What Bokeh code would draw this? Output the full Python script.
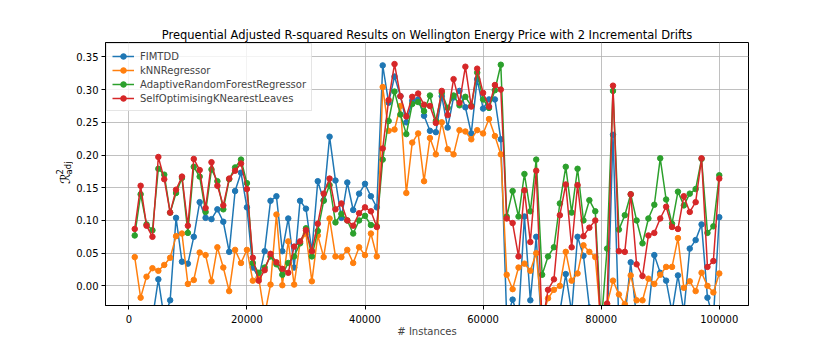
from bokeh.plotting import figure
from bokeh.layouts import row
from bokeh.models import Range1d, FixedTicker, PrintfTickFormatter, Label
from bokeh.embed import file_html
from bokeh.resources import INLINE

instances = list(range(1000, 100001, 1000))

fimtdd = [-0.08, -0.09, -0.07, -0.05, 0.010, -0.05, -0.022, 0.104, 0.037, 0.034,
          0.075, 0.128, 0.104, 0.102, 0.117, 0.098, 0.052, 0.145, 0.173, 0.120,
          0.028, 0.013, 0.053, 0.130, 0.137, 0.053, 0.103, 0.028, 0.130, 0.118,
          0.053, 0.160, 0.131, 0.228, 0.161, 0.104, 0.158, 0.116, 0.141, 0.156,
          0.137, 0.120, 0.337, 0.280, 0.320, 0.290, 0.250, 0.283, 0.285, 0.260,
          0.237, 0.235, 0.290, 0.242, 0.288, 0.298, 0.273, 0.233, 0.316, 0.271,
          0.285, 0.285, 0.224, -0.05, -0.021, -0.05, 0.106, -0.022, 0.075, -0.08,
          -0.06, -0.05, -0.04, 0.018, -0.04, 0.075, 0.046, -0.033, -0.06, -0.08,
          -0.07, 0.231, -0.06, -0.05, 0.036, -0.05, -0.06, -0.04, 0.047, 0.020,
          0.008, -0.04, 0.016, -0.04, 0.057, 0.070, 0.094, -0.018, -0.05, 0.105]

knn = [0.044, -0.018, 0.014, 0.027, 0.023, 0.032, 0.043, 0.076, 0.080, 0.003,
       0.009, 0.051, 0.047, 0.007, 0.059, 0.028, -0.008, 0.055, 0.035, 0.055,
       0.008, 0.012, -0.045, 0.002, 0.109, 0.001, 0.068, 0.002, 0.066, 0.080,
       0.007, 0.077, 0.044, 0.103, 0.045, 0.044, 0.055, 0.035, 0.059, 0.047,
       0.080, 0.045, 0.304, 0.237, 0.239, 0.275, 0.142, 0.219, 0.233, 0.160,
       0.226, 0.201, 0.250, 0.209, 0.201, 0.238, 0.236, 0.224, 0.238, 0.233,
       0.255, 0.229, 0.201, 0.017, -0.005, 0.028, 0.034, 0.023, 0.050, -0.05,
       -0.019, -0.006, 0.000, 0.052, 0.008, 0.019, 0.062, 0.052, 0.044, -0.06,
       -0.028, 0.008, -0.013, -0.028, 0.016, -0.022, -0.022, 0.011, 0.003, 0.017,
       0.029, 0.029, 0.073, -0.003, 0.007, -0.008, 0.020, 0.000, -0.010, 0.019]

arf = [0.077, 0.140, 0.094, 0.085, 0.179, 0.170, 0.112, 0.142, 0.165, 0.081,
       0.182, 0.167, 0.113, 0.178, 0.160, 0.117, 0.163, 0.181, 0.193, 0.157,
       0.035, 0.020, 0.028, 0.045, 0.033, 0.017, 0.035, 0.045, 0.065, 0.088,
       0.045, 0.084, 0.130, 0.154, 0.097, 0.110, 0.100, 0.080, 0.100, 0.107,
       0.093, 0.091, 0.193, 0.252, 0.297, 0.262, 0.232, 0.278, 0.281, 0.267,
       0.291, 0.252, 0.295, 0.272, 0.291, 0.276, 0.289, 0.275, 0.326, 0.285,
       0.272, 0.299, 0.338, 0.106, 0.145, 0.106, 0.171, 0.114, 0.193, 0.017,
       0.045, 0.059, 0.126, 0.182, 0.112, 0.179, 0.100, 0.131, 0.114, -0.06,
       0.057, 0.298, 0.086, 0.108, 0.140, 0.100, 0.065, 0.103, 0.124, 0.195,
       0.132, 0.095, 0.144, 0.123, 0.141, 0.148, 0.194, 0.081, 0.091, 0.169]

soknl = [0.087, 0.153, 0.092, 0.075, 0.197, 0.163, 0.112, 0.147, 0.167, 0.092,
         0.194, 0.177, 0.119, 0.189, 0.153, 0.123, 0.164, 0.176, 0.187, 0.148,
         0.043, 0.008, 0.024, 0.049, 0.036, 0.026, 0.020, 0.060, 0.068, 0.085,
         0.053, 0.095, 0.141, 0.164, 0.117, 0.126, 0.100, 0.092, 0.111, 0.120,
         0.114, 0.090, 0.210, 0.284, 0.339, 0.290, 0.259, 0.289, 0.294, 0.277,
         0.275, 0.249, 0.298, 0.261, 0.316, 0.280, 0.335, 0.274, 0.332, 0.295,
         0.274, 0.307, 0.300, 0.103, 0.096, 0.045, 0.146, 0.067, 0.176, -0.06,
         -0.006, 0.010, 0.108, 0.155, 0.059, 0.154, 0.076, 0.089, 0.100, -0.08,
         -0.027, 0.306, 0.053, 0.052, 0.140, 0.033, 0.015, 0.077, 0.081, 0.103,
         0.121, 0.090, 0.087, 0.137, 0.113, 0.128, 0.195, 0.029, 0.038, 0.164]

series_names = ["FIMTDD", "kNNRegressor", "AdaptiveRandomForestRegressor",
                "SelfOptimisingKNearestLeaves"]
series_values = [fimtdd, knn, arf, soknl]
colors = ["#1f77b4", "#ff7f0e", "#2ca02c", "#d62728"]

x_ticks = [0, 20000, 40000, 60000, 80000, 100000]
y_ticks = [0.0, 0.05, 0.10, 0.15, 0.20, 0.25, 0.30, 0.35]

FONT = "DejaVu Sans"
TOTAL_H = 346
LAB_W = 73

# ---- main plot ----
p = figure(width=830 - LAB_W, height=TOTAL_H,
           min_border_left=104 - LAB_W, min_border_right=82,
           min_border_top=42, min_border_bottom=41,
           x_range=Range1d(-3950, 104950), y_range=Range1d(-0.03, 0.372),
           output_backend="svg", toolbar_location=None,
           title="Prequential Adjusted R-squared Results on Wellington Energy Price with 2 Incremental Drifts")

p.title.align = "center"
p.title.text_font = FONT
p.title.text_font_size = "11.5px"
p.title.text_font_style = "normal"
p.title.text_color = "black"
p.title.standoff = 2

for name, vals, c in zip(series_names, series_values, colors):
    p.line(instances, vals, line_color=c, line_width=1.5, legend_label=name)
    p.scatter(instances, vals, size=5.5, fill_color=c, line_color=c, legend_label=name)

for ax in (p.xaxis[0], p.yaxis[0]):
    ax.major_label_text_font = FONT
    ax.major_label_text_font_size = "10px"
    ax.major_label_text_color = "black"
    ax.axis_label_text_font = FONT
    ax.axis_label_text_font_size = "10px"
    ax.axis_label_text_font_style = "normal"
    ax.minor_tick_line_color = None
    ax.major_tick_in = 0
    ax.major_tick_out = 4
    ax.major_tick_line_color = "black"
    ax.axis_line_color = "black"
    ax.major_label_standoff = 3

p.xaxis.ticker = FixedTicker(ticks=x_ticks)
p.xaxis.formatter = PrintfTickFormatter(format="%d")
p.xaxis.major_label_standoff = 5
p.yaxis.ticker = FixedTicker(ticks=y_ticks)
p.yaxis.formatter = PrintfTickFormatter(format="%.2f")
p.xaxis.axis_label = "# Instances"
p.xaxis.axis_label_standoff = 0

p.xgrid.ticker = FixedTicker(ticks=x_ticks)
p.ygrid.ticker = FixedTicker(ticks=y_ticks)
for g in (p.xgrid[0], p.ygrid[0]):
    g.grid_line_color = "#b0b0b0"
    g.grid_line_alpha = 0.8
    g.grid_line_width = 1

p.outline_line_color = "black"
p.outline_line_alpha = 1
p.outline_line_width = 1

lg = p.legend[0]
lg.location = "top_left"
lg.margin = 1
lg.padding = 5
lg.spacing = 0
lg.glyph_width = 22
lg.glyph_height = 14
lg.label_height = 14
lg.label_standoff = 6
lg.label_text_font = FONT
lg.label_text_font_size = "10px"
lg.border_line_color = "#cccccc"
lg.border_line_width = 1
lg.background_fill_alpha = 0.8

# ---- narrow panel holding the y-axis label (R^2_adj) ----
q = figure(width=LAB_W, height=TOTAL_H, x_range=Range1d(0, LAB_W),
           y_range=Range1d(0, TOTAL_H), min_border=0,
           x_axis_type=None, y_axis_type=None,
           output_backend="svg", toolbar_location=None)
q.outline_line_color = None
q.grid.visible = False

r_x, r_y = 64.0, TOTAL_H - 186
q.add_layout(Label(x=r_x, y=r_y, text="\u211b", angle=1.5708,
                   text_font=FONT, text_font_size="13.5px", text_align="left",
                   text_baseline="middle", text_color="black"))
q.add_layout(Label(x=r_x - 5, y=r_y + 12.5, text="2", angle=1.5708,
                   text_font=FONT, text_font_size="8.5px", text_align="left",
                   text_baseline="middle", text_color="black"))
q.add_layout(Label(x=r_x + 4, y=r_y + 12.5, text="adj", angle=1.5708,
                   text_font=FONT, text_font_size="8.5px", text_align="left",
                   text_baseline="middle", text_color="black"))

layout = row(q, p, spacing=0)
open("out.html", "w").write(file_html(layout, INLINE))
